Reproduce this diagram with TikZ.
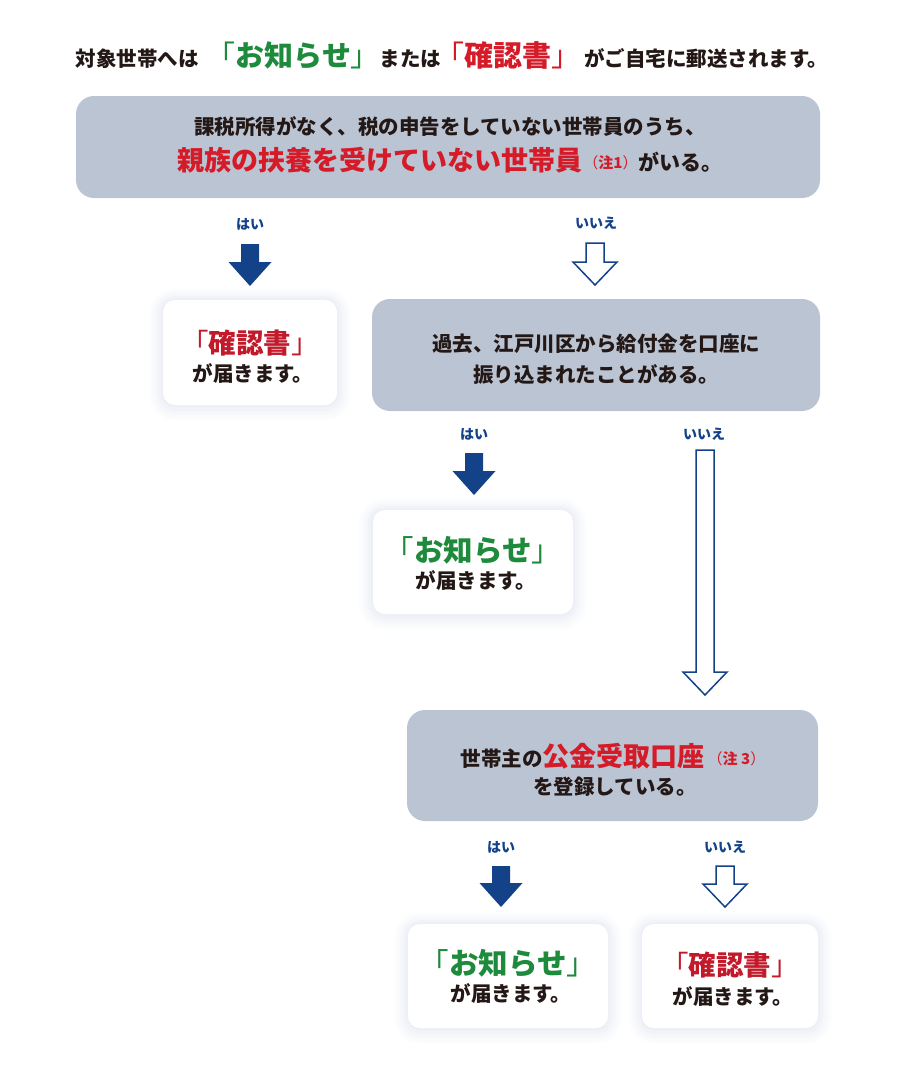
\documentclass[tikz,border=0pt]{standalone}
\usepackage{fontspec}
\setmainfont{Noto Sans CJK JP}
\definecolor{txt}{HTML}{231815}
\definecolor{grn}{HTML}{1E8A3C}
\definecolor{redA}{HTML}{D51A28}
\definecolor{redB}{HTML}{C21A2B}
\definecolor{blu}{HTML}{134289}
\definecolor{grayb}{HTML}{BAC4D3}
\definecolor{shd}{HTML}{7F8FC0}
\newcommand\fsz[1]{\fontsize{#1}{#1}\selectfont}
\newcommand\lbr{{\mdseries 「}}
\newcommand\rbr{{\mdseries 」}}
\newcommand\notetxt[1]{\raisebox{2pt}{\fsz{15}\color{redA}{\mdseries（}#1{\mdseries）}}}
\begin{document}
\begin{tikzpicture}[x=1pt,y=-1pt,
  every node/.style={font=\bfseries, text=txt, inner sep=0pt},
  qbox/.style={fill=grayb, draw=none, rounded corners=18pt, inner sep=0pt},
  abox/.style={fill=white, draw=none, rounded corners=12pt, inner sep=0pt,
    preaction={draw=shd, draw opacity=0.02, line width=28pt, transform canvas={yshift=-2pt}},
    preaction={draw=shd, draw opacity=0.025, line width=22pt, transform canvas={yshift=-2pt}},
    preaction={draw=shd, draw opacity=0.03, line width=16pt, transform canvas={yshift=-1.5pt}},
    preaction={draw=shd, draw opacity=0.035, line width=10pt, transform canvas={yshift=-1pt}},
    preaction={draw=shd, draw opacity=0.04, line width=4pt, transform canvas={yshift=-0.5pt}}},
  lbl/.style={font=\bfseries\fsz{14}, text=blu},
  big/.style={font=\bfseries\fsz{27.5}},
  norm/.style={font=\bfseries\fsz{20.5}},
  pics/yesarrow/.style={code={
    \fill[blu] (-9,0) -- (9,0) -- (9,#1-24) -- (21.5,#1-24) -- (0,#1) -- (-21.5,#1-24) -- (-9,#1-24) -- cycle;}},
  pics/noarrow/.style={code={
    \draw[blu, line width=1.5pt, fill=white, line join=miter] (-9,0) -- (9,0) -- (9,#1-23) -- (22,#1-23) -- (0,#1) -- (-22,#1-23) -- (-9,#1-23) -- cycle;}}
]
\useasboundingbox (0,0) rectangle (900,1085);

% title
\node (title) at (452,55) {{\fsz{20.5}対象世帯へは}\hspace{8pt}{\fsz{29}\color{grn}\lbr お知らせ\rbr}{\fsz{20.5}または}\hspace{-6pt}{\fsz{29}\color{redA}\lbr 確認書\rbr}\hspace{4pt}{\fsz{20.5}がご自宅に郵送されます。}};

% question 1
\node[qbox, minimum width=744, minimum height=102] (q1) at (448,147) {};
\node[norm] (q1a) at (450,127) {課税所得がなく、税の申告をしていない世帯員のうち、};
\node (q1b) at (450,160) {{\fsz{27}\color{redA}親族の扶養を受けていない世帯員}\hspace{1pt}\notetxt{注1}\hspace{1pt}{\fsz{21}がいる。}};

% answers of q1
\node[lbl] (y1) at (250,224) {はい};
\pic at (250,244) {yesarrow=42};
\node[lbl] (n1) at (596,223) {いいえ};
\pic at (595,243) {noarrow=42};

\node[abox, minimum width=174, minimum height=105] (b1) at (250,352.5) {};
\node[big, text=redB] (b1a) at (250,343) {\lbr 確認書\rbr};
\node[norm] (b1b) at (253,373) {が届きます。};

% question 2
\node[qbox, minimum width=448, minimum height=112] (q2) at (596,355) {};
\node[norm] (q2a) at (596,344) {過去、江戸川区から給付金を口座に};
\node[norm] (q2b) at (596,374) {振り込まれたことがある。};

\node[lbl] (y2) at (474,434) {はい};
\pic at (474,453) {yesarrow=42};
\node[lbl] (n2) at (704,434) {いいえ};
\pic at (705,450) {noarrow=245};

\node[abox, minimum width=200, minimum height=104] (b2) at (473,562) {};
\node[font=\bfseries\fsz{29.5}, text=grn] (b2a) at (473,550) {\lbr お知らせ\rbr};
\node[norm] (b2b) at (476,580) {が届きます。};

% question 3
\node[qbox, minimum width=411, minimum height=111] (q3) at (612.5,765.5) {};
\node (q3a) at (613,756) {{\fsz{20.5}世帯主の}{\fsz{27}\color{redA}公金受取口座}\hspace{3pt}\notetxt{注 3}};
\node[norm] (q3b) at (615,787) {を登録している。};

\node[lbl] (y3) at (501,847) {はい};
\pic at (501,866) {yesarrow=41};
\node[lbl] (n3) at (725,847) {いいえ};
\pic at (725,866) {noarrow=41};

\node[abox, minimum width=200, minimum height=104] (b3) at (508,976) {};
\node[font=\bfseries\fsz{29.5}, text=grn] (b3a) at (508,963) {\lbr お知らせ\rbr};
\node[norm] (b3b) at (511,993) {が届きます。};

\node[abox, minimum width=176, minimum height=104] (b4) at (730,976) {};
\node[big, text=redB] (b4a) at (730,965) {\lbr 確認書\rbr};
\node[norm] (b4b) at (733,996) {が届きます。};
\end{tikzpicture}
\end{document}
